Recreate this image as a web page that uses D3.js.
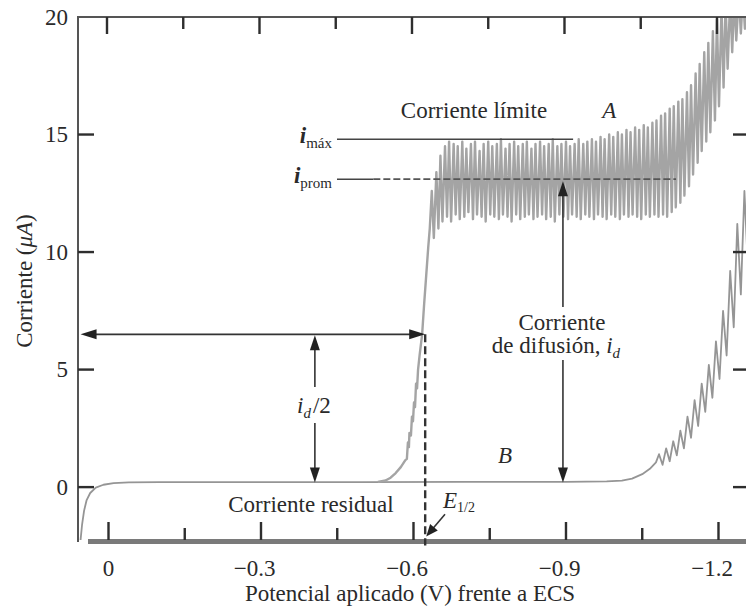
<!DOCTYPE html>
<html><head><meta charset="utf-8">
<script src="https://cdn.jsdelivr.net/npm/d3@7"></script>
<style>
html,body{margin:0;padding:0;background:#fff;}
svg{display:block;}
text{font-family:"Liberation Serif","Times New Roman",serif;fill:#2a2a2a;}
</style></head><body>
<svg id="chart" width="746" height="609"></svg>
<script>
// ---- data (potential V vs ECS, current µA) ----
const xMajorTicks = [0, -0.3, -0.6, -0.9, -1.2];
const xMinorTicks = [-0.15, -0.45, -0.75, -1.05];
const yTicks = [0, 5, 10, 15, 20];

// curve B: supporting electrolyte only (residual current)
const curveB = [
  [0.055,-2.25],[0.052,-1.6],[0.048,-1.0],[0.043,-0.55],[0.036,-0.25],[0.025,-0.02],
  [0.010,0.10],[-0.010,0.17],[-0.040,0.20],[-0.100,0.21],[-0.300,0.21],[-0.500,0.21],
  [-0.700,0.22],[-0.900,0.22],[-0.980,0.24],[-1.010,0.28],[-1.030,0.36],[-1.050,0.55],
  [-1.065,0.78],[-1.077,1.05],[-1.083,1.40],
  [-1.090,0.95],[-1.097,1.65],[-1.104,1.10],[-1.111,1.95],[-1.118,1.35],[-1.125,2.40],
  [-1.132,1.65],[-1.139,3.0],[-1.146,2.1],[-1.153,3.7],[-1.160,2.6],[-1.167,4.4],
  [-1.174,3.2],[-1.181,5.2],[-1.188,3.8],[-1.195,6.2],[-1.202,4.6],[-1.209,7.5],
  [-1.216,5.6],[-1.223,9.2],[-1.230,6.8],[-1.237,11.2],[-1.244,8.2],[-1.251,12.6],
  [-1.258,9.3],[-1.265,13.0]
];

// curve A: analyte wave with drop oscillations
const curveA = [
  [-0.530,0.22],[-0.545,0.28],[-0.555,0.40],[-0.565,0.60],[-0.575,0.85],[-0.584,1.15],
  [-0.587,1.20],[-0.589,1.9],[-0.591,1.7],[-0.592,2.3],[-0.595,2.2],[-0.597,3.0],
  [-0.599,2.8],[-0.601,3.6],[-0.603,3.4],[-0.605,4.4],[-0.607,4.2],[-0.609,5.0],
  [-0.612,5.6],[-0.617,6.5],[-0.621,7.8],[-0.625,9.0],[-0.629,10.2],[-0.632,11.0],
  [-0.636,12.6],[-0.640,10.6],[-0.645,13.4],[-0.649,11.0],[-0.653,14.1],[-0.657,11.3],
  [-0.662,14.5],[-0.666,11.5],[-0.670,14.7],[-0.674,11.3],[-0.679,14.6],[-0.683,11.6],
  [-0.687,14.5],[-0.691,11.4],[-0.696,14.7],[-0.700,11.5],[-0.704,14.4],[-0.708,11.7],
  [-0.713,14.6],[-0.717,11.4],[-0.721,14.7],[-0.725,11.6],[-0.730,14.3],[-0.734,11.5],
  [-0.738,14.6],[-0.742,11.3],[-0.747,14.7],[-0.751,11.6],[-0.755,14.5],[-0.759,11.5],
  [-0.764,14.6],[-0.768,11.4],[-0.772,14.8],[-0.776,11.6],[-0.781,14.4],[-0.785,11.5],
  [-0.789,14.6],[-0.793,11.3],[-0.798,14.7],[-0.802,11.6],[-0.806,14.5],[-0.810,11.4],
  [-0.815,14.6],[-0.819,11.5],[-0.823,14.7],[-0.827,11.6],[-0.832,14.4],[-0.836,11.4],
  [-0.840,14.6],[-0.844,11.5],[-0.849,14.7],[-0.853,11.6],[-0.857,14.5],[-0.861,11.4],
  [-0.866,14.6],[-0.870,11.5],[-0.874,14.8],[-0.878,11.3],[-0.883,14.5],[-0.887,11.6],
  [-0.891,14.6],[-0.895,11.5],[-0.900,14.7],[-0.904,11.4],[-0.908,14.5],[-0.912,11.6],
  [-0.917,14.6],[-0.921,11.5],[-0.925,14.8],[-0.929,11.4],[-0.934,14.6],[-0.938,11.6],
  [-0.942,14.7],[-0.946,11.5],[-0.951,14.8],[-0.955,11.4],[-0.959,14.7],[-0.963,11.6],
  [-0.968,14.9],[-0.972,11.5],[-0.976,14.8],[-0.980,11.4],[-0.985,15.0],[-0.989,11.6],
  [-0.993,14.9],[-0.997,11.5],[-1.002,15.1],[-1.006,11.4],[-1.010,15.0],[-1.014,11.6],
  [-1.019,15.2],[-1.023,11.5],[-1.027,15.1],[-1.031,11.6],[-1.036,15.3],[-1.040,11.5],
  [-1.044,15.2],[-1.048,11.4],[-1.053,15.4],[-1.057,11.6],[-1.061,15.3],[-1.065,11.5],
  [-1.070,15.5],[-1.074,11.6],[-1.078,15.6],[-1.082,11.5],[-1.087,15.8],[-1.091,11.6],
  [-1.095,15.9],[-1.099,11.5],[-1.104,16.1],[-1.108,11.7],[-1.112,16.2],[-1.116,11.9],
  [-1.121,16.4],[-1.125,12.1],[-1.129,16.5],[-1.133,12.4],[-1.138,16.8],[-1.142,12.8],
  [-1.146,17.1],[-1.150,13.3],[-1.155,17.6],[-1.159,13.8],[-1.163,18.0],[-1.167,14.3],
  [-1.172,18.5],[-1.176,14.7],[-1.180,18.9],[-1.184,15.1],[-1.189,19.4],[-1.193,15.6],
  [-1.197,19.9],[-1.201,16.2],[-1.206,20.4],[-1.210,17.0],[-1.214,20.6],[-1.218,17.8],
  [-1.223,20.8],[-1.227,18.5],[-1.231,20.9],[-1.235,19.0],[-1.240,21.0],[-1.244,19.3],
  [-1.248,21.0],[-1.252,19.5],[-1.257,21.0],[-1.261,19.6],[-1.265,21.0]
];

// annotation values
const iMax = 14.8, iProm = 13.1, iHalf = 6.5, iResidual = 0.2, eHalf = -0.623;
const iMaxLine = [-0.4495, -0.914];
const iPromLine = [-0.4495, -1.1165];
const vHalfArrow = -0.406, vDiffArrow = -0.894;

// ---- scales ----
const svg = d3.select('#chart');
const x = d3.scaleLinear().domain([0.060, -1.262]).range([78, 750]);
const y = d3.scaleLinear().domain([-2.25, 20]).range([540, 17]);
const X0 = x.range()[0], X1 = x.range()[1], Y0 = y.range()[0], Y1 = y.range()[1];

svg.append('defs').append('clipPath').attr('id','plotclip')
  .append('rect').attr('x',X0).attr('y',Y1).attr('width',X1-X0).attr('height',Y0-Y1);

const line = d3.line().x(d=>x(d[0])).y(d=>y(d[1]));
const curves = svg.append('g').attr('clip-path','url(#plotclip)');
curves.append('path').datum(curveB).attr('d',line)
  .attr('fill','none').attr('stroke','#959595').attr('stroke-width',1.8).attr('stroke-linejoin','round');
curves.append('path').datum(curveA).attr('d',line)
  .attr('fill','none').attr('stroke','#a4a4a4').attr('stroke-width',2.4).attr('stroke-linejoin','round');

// ---- frame lines (as filled rects) ----
svg.append('rect').attr('x',X0).attr('y',Y1-1).attr('width',X1-X0).attr('height',2).attr('fill','#555');
svg.append('rect').attr('x',X0-1).attr('y',Y1-1).attr('width',2).attr('height',Y0-Y1+3).attr('fill','#555');
svg.append('rect').attr('x',X0+10).attr('y',Y0-1).attr('width',X1-X0-10).attr('height',5).attr('fill','#7a7a7a');

// ---- ticks from the scales (filled rects) ----
const xt = xMajorTicks.map(v=>({v,len:18})).concat(xMinorTicks.map(v=>({v,len:12})));
const yt = yTicks.filter(d=>d<20);
const tk = svg.append('g').attr('fill','#2e2e2e');
tk.selectAll('rect.xb').data(xt).join('rect').attr('class','xb')
  .attr('x',d=>x(d.v)-1.2).attr('y',d=>Y0-d.len).attr('width',2.4).attr('height',d=>d.len);
tk.selectAll('rect.xt').data(xt).join('rect').attr('class','xt')
  .attr('x',d=>x(d.v)-2.7).attr('y',Y1).attr('width',2.4).attr('height',d=>d.len===18?17:12);
tk.selectAll('rect.yl').data(yt).join('rect').attr('class','yl')
  .attr('x',X0).attr('y',d=>y(d)-1.2).attr('width',16).attr('height',2.4);
tk.selectAll('rect.yr').data(yt).join('rect').attr('class','yr')
  .attr('x',X1-17).attr('y',d=>y(d)-1.2).attr('width',17).attr('height',2.4);

const fmt = d => d === 0 ? '0' : '\u2212' + Math.abs(d).toFixed(1);
svg.append('g').selectAll('text').data(xMajorTicks).join('text')
  .attr('x',d=>x(d)).attr('y',Y0+36).attr('text-anchor','middle').attr('font-size',23)
  .attr('dx',d=>d===0?0:'-0.28em').text(fmt);
svg.append('g').selectAll('text').data(yTicks).join('text')
  .attr('x',X0-10).attr('y',d=>y(d)).attr('dy','0.34em').attr('text-anchor','end').attr('font-size',23)
  .text(d3.format('d'));

// axis titles
svg.append('text').attr('x',410).attr('y',601).attr('text-anchor','middle').attr('font-size',23)
  .text('Potencial aplicado (V) frente a ECS');
const yl = svg.append('text').attr('transform','translate(32,281) rotate(-90)').attr('text-anchor','middle').attr('font-size',23);
yl.append('tspan').text('Corriente (');
yl.append('tspan').attr('font-style','italic').text('\u03bcA');
yl.append('tspan').text(')');

// ---- annotations ----
const ann = svg.append('g');
function seg(x1,y1,x2,y2,w=1.6,dash=null,col='#333'){
  const l = ann.append('path').attr('d',`M${x1},${y1}L${x2},${y2}`).attr('fill','none')
    .attr('stroke',col).attr('stroke-width',w);
  if(dash) l.attr('stroke-dasharray',dash);
  return l;
}
function head(tx,ty,ux,uy,len=15,half=5){
  const n = Math.hypot(ux,uy); ux/=n; uy/=n;
  const bx = tx-ux*len, by = ty-uy*len, px=-uy, py=ux;
  ann.append('path').attr('d',`M${tx},${ty}L${bx+px*half},${by+py*half}L${bx-px*half},${by-py*half}Z`).attr('fill','#222');
}

// i_max and i_prom reference lines
seg(x(iMaxLine[0]),y(iMax),x(iMaxLine[1]),y(iMax),1.6,null,'#444');
seg(x(iPromLine[0]),y(iProm),x(-0.521),y(iProm),1.6,null,'#444');
seg(x(-0.521),y(iProm),x(iPromLine[1]),y(iProm),1.8,'7,3','#555');

// i_max / i_prom labels
const lm = ann.append('text').attr('x',x(iMaxLine[0])-5).attr('y',y(iMax)+4).attr('text-anchor','end').attr('font-size',23);
lm.append('tspan').attr('font-style','italic').attr('font-weight','bold').text('i');
lm.append('tspan').attr('font-size',15).attr('dy',5).text('máx');
const lp = ann.append('text').attr('x',x(iPromLine[0])-5).attr('y',y(iProm)+4).attr('text-anchor','end').attr('font-size',23);
lp.append('tspan').attr('font-style','italic').attr('font-weight','bold').text('i');
lp.append('tspan').attr('font-size',15).attr('dy',5).text('prom');

// half-wave horizontal double arrow
const hx1 = x(0.055), hx2 = x(eHalf), hy = y(iHalf);
seg(hx1+10,hy,hx2-10,hy,1.6);
head(hx1,hy,-1,0,16,5);
head(hx2,hy,1,0,16,5);

// dashed E1/2 line
seg(x(eHalf),hy,x(eHalf),y(-2.48),2.4,'8,4','#333');

// i_d/2 vertical arrow
const vx = x(vHalfArrow);
seg(vx,y(iHalf)+10,vx,387,1.6);
seg(vx,423,vx,y(iResidual)-10,1.6);
head(vx,y(iHalf)+1,0,-1,15,5);
head(vx,y(iResidual),0,1,15,5);
const lh = ann.append('text').attr('x',vx-1).attr('y',413).attr('text-anchor','middle').attr('font-size',23);
lh.append('tspan').attr('font-style','italic').text('i');
lh.append('tspan').attr('font-size',15).attr('font-style','italic').attr('dy',5).text('d');
lh.append('tspan').attr('dy',-5).attr('dx',2).text('/2');

// diffusion current arrow
const vdx = x(vDiffArrow);
seg(vdx,y(iProm)+10,vdx,307,1.6);
seg(vdx,360,vdx,y(iResidual)-10,1.6);
head(vdx,y(iProm)+2,0,-1,15,5);
head(vdx,y(iResidual),0,1,15,5);
ann.append('text').attr('x',vdx-1).attr('y',330).attr('text-anchor','middle').attr('font-size',23).text('Corriente');
const ld = ann.append('text').attr('x',vdx-7).attr('y',353).attr('text-anchor','middle').attr('font-size',23);
ld.append('tspan').text('de difusión, ');
ld.append('tspan').attr('font-style','italic').text('i');
ld.append('tspan').attr('font-size',15).attr('font-style','italic').attr('dy',5).text('d');

// text labels
ann.append('text').attr('x',x(-0.719)).attr('y',118).attr('text-anchor','middle').attr('font-size',23).text('Corriente límite');
ann.append('text').attr('x',x(-0.985)).attr('y',118).attr('text-anchor','middle').attr('font-size',23).attr('font-style','italic').text('A');
ann.append('text').attr('x',x(-0.780)).attr('y',463).attr('text-anchor','middle').attr('font-size',23).attr('font-style','italic').text('B');
ann.append('text').attr('x',311).attr('y',512).attr('text-anchor','middle').attr('font-size',23).text('Corriente residual');

// E1/2 label and arrow
const le = ann.append('text').attr('x',443).attr('y',508).attr('font-size',23);
le.append('tspan').attr('font-style','italic').text('E');
le.append('tspan').attr('font-size',14).attr('dy',4).text('1/2');
const ex1 = x(-0.662), ey1 = y(-1.15), ex2 = x(-0.625), ey2 = y(-2.1);
seg(ex1,ey1,ex2+(ex1-ex2)*0.3,ey2+(ey1-ey2)*0.3,1.6);
head(ex2,ey2,ex2-ex1,ey2-ey1,12,5);
</script>
</body></html>
